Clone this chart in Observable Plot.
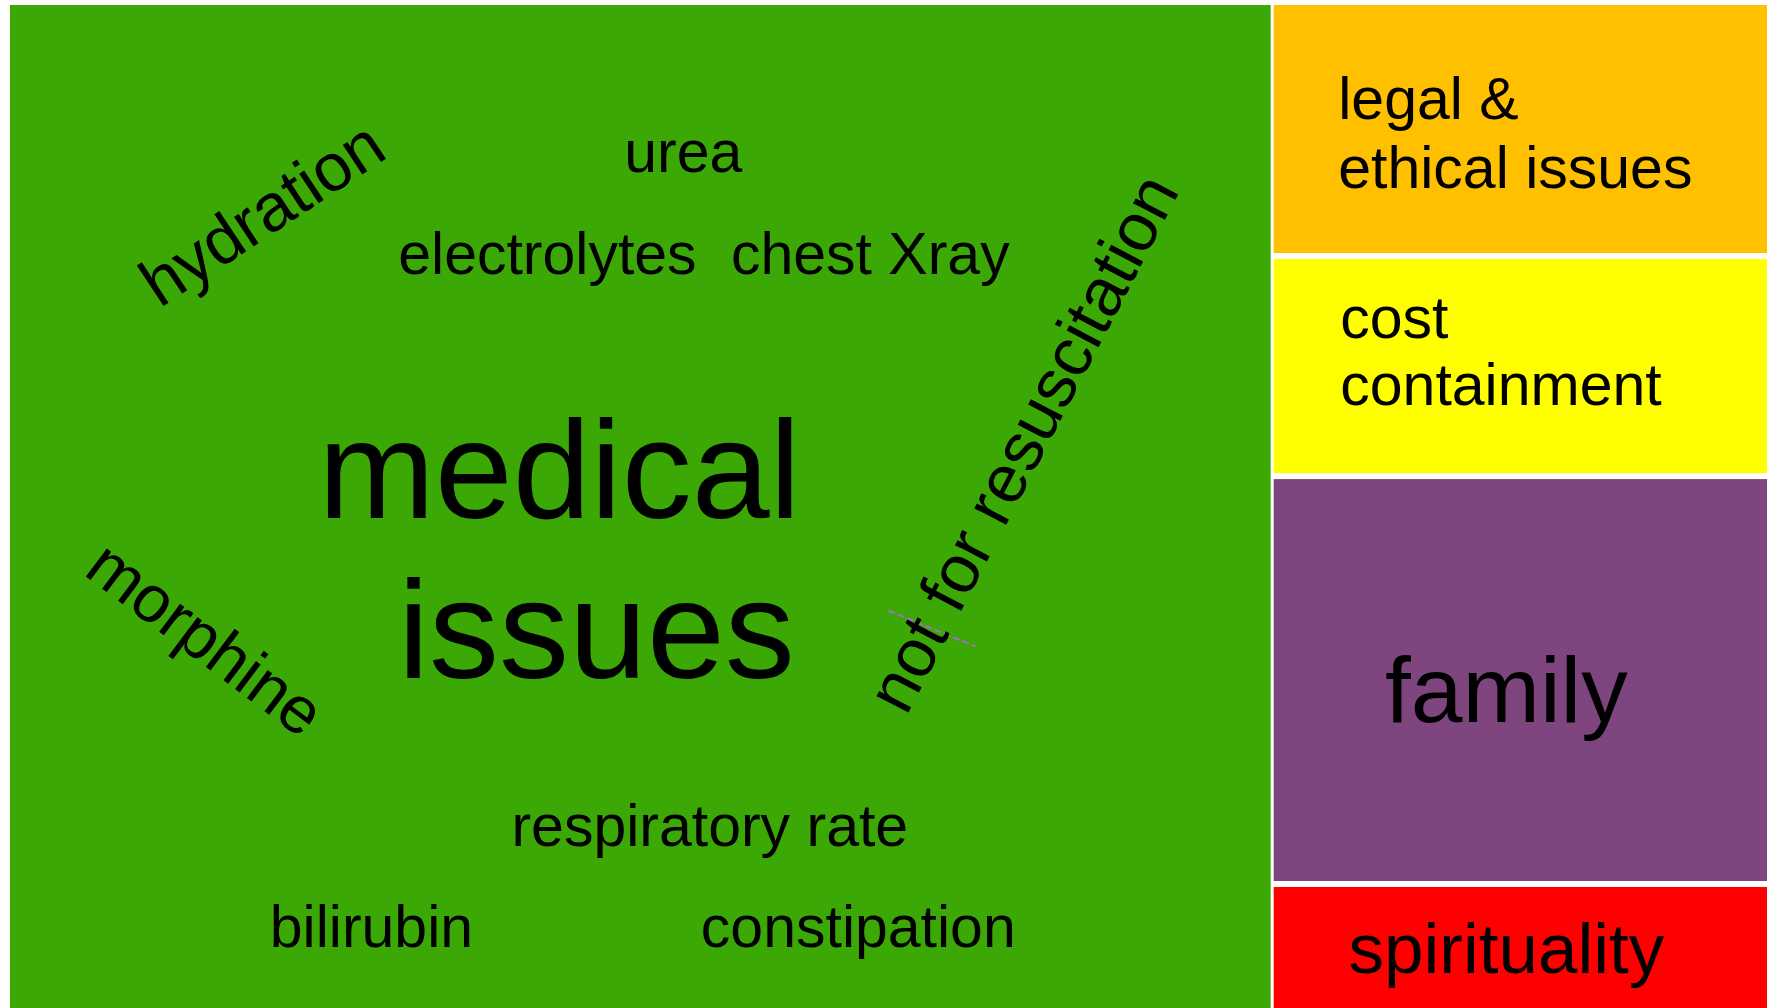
<!DOCTYPE html>
<html>
<head>
<meta charset="utf-8">
<script src="https://cdn.jsdelivr.net/npm/d3@7"></script>
<script src="https://cdn.jsdelivr.net/npm/@observablehq/plot@0.6"></script>
<style>
  html, body { margin: 0; padding: 0; background: #ffffff; overflow: hidden; }
  #chart svg { display: block; }
</style>
</head>
<body>
<div id="chart"></div>
<script>
// ---------- data ----------
const groups = ["medical issues", "legal & ethical issues", "cost containment", "family", "spirituality"];
const groupValues = [71.8, 7.1, 6.15, 11.4, 3.55];           // share of area (%)
const groupColors = ["#3ca806", "#ffc000", "#ffff00", "#7f457f", "#ff0000"];

// label lines shown inside each tile
const labelGroup = ["medical issues", "medical issues", "legal & ethical issues", "legal & ethical issues", "cost containment", "cost containment", "family", "spirituality"];
const labelText  = ["medical", "issues", "legal &", "ethical issues", "cost", "containment", "family", "spirituality"];

// words of the "medical issues" cloud
const words = ["urea", "electrolytes", "chest Xray", "hydration", "not for resuscitation", "morphine", "respiratory rate", "bilirubin", "constipation"];

// ---------- layout (relative to each tile) ----------
const labelLayout = [
  {u: 0.4354, v: 0.5105, size: 140, anchor: "middle"},
  {u: 0.4647, v: 0.6700, size: 140, anchor: "middle"},
  {u: 0.1298, v: 0.4556, size: 59, anchor: "start"},
  {u: 0.1298, v: 0.7339, size: 59, anchor: "start"},
  {u: 0.1340, v: 0.3645, size: 59, anchor: "start"},
  {u: 0.1340, v: 0.6776, size: 59, anchor: "start"},
  {u: 0.4706, v: 0.6035, size: 93, anchor: "middle"},
  {u: 0.4706, v: 0.7050, size: 71, anchor: "middle"}
];
const wordLayout = [
  {u: 0.5337, v: 0.1665, size: 59, angle: 0},
  {u: 0.4259, v: 0.2672, size: 59, angle: 0},
  {u: 0.6820, v: 0.2672, size: 59, angle: 0},
  {u: 0.2095, v: 0.2263, size: 67, angle: -33.5},
  {u: 0.8192, v: 0.4467, size: 68, angle: -62.5},
  {u: 0.1440, v: 0.6491, size: 66, angle: 37},
  {u: 0.5547, v: 0.8375, size: 59, angle: 0},
  {u: 0.2863, v: 0.9382, size: 59, angle: 0},
  {u: 0.6725, v: 0.9382, size: 59, angle: 0}
];
const markSegment = [{u1: 0.6963, v1: 0.6032, u2: 0.7653, v2: 0.6391}];

// ---------- treemap ----------
const W = 1771, H = 1008;
const root = d3.hierarchy({
  name: "root",
  children: [
    {name: groups[0], value: groupValues[0]},
    {name: "other", children: groups.slice(1).map((g, i) => ({name: g, value: groupValues[i + 1]}))}
  ]
}).sum(d => d.value || 0);

d3.treemap()
  .size([W, H])
  .tile(d3.treemapSliceDice)
  .paddingTop(n => n.depth === 0 ? 5 : 0)
  .paddingLeft(n => n.depth === 0 ? 10 : 0)
  .paddingRight(n => n.depth === 0 ? 4 : 0)
  .paddingBottom(0)
  .paddingInner(n => n.depth === 0 ? 3 : 6)(root);

const tiles = root.leaves().map(l => ({name: l.data.name, x0: l.x0, x1: l.x1, y0: l.y0, y1: l.y1}));
const tileOf = Object.fromEntries(tiles.map(t => [t.name, t]));
const at = (t, u, v) => ({x: t.x0 + u * (t.x1 - t.x0), y: t.y0 + v * (t.y1 - t.y0)});

const labelRows = labelText.map((text, i) => ({text, ...labelLayout[i], ...at(tileOf[labelGroup[i]], labelLayout[i].u, labelLayout[i].v)}));
const med = tileOf["medical issues"];
const wordRows = words.map((text, i) => ({text, ...wordLayout[i], ...at(med, wordLayout[i].u, wordLayout[i].v)}));
const segRows = markSegment.map(s => {
  const a = at(med, s.u1, s.v1), b = at(med, s.u2, s.v2);
  return {x1: a.x, y1: a.y, x2: b.x, y2: b.y};
});

const font = "'Liberation Sans', Arial, Helvetica, sans-serif";

const textMarks = [...labelRows, ...wordRows].map(r =>
  Plot.text([r], {
    x: "x", y: "y", text: "text",
    fontSize: r.size, rotate: r.angle || 0,
    textAnchor: r.anchor || "middle", lineAnchor: "bottom",
    fill: "#000000", fontFamily: font
  })
);

const chart = Plot.plot({
  width: W, height: H,
  margin: 0,
  x: {domain: [0, W], range: [0, W], axis: null},
  y: {domain: [0, H], range: [0, H], axis: null},
  color: {domain: groups, range: groupColors},
  style: {background: "#ffffff", fontFamily: font},
  marks: [
    Plot.rect(tiles, {x1: "x0", x2: "x1", y1: "y0", y2: "y1", fill: "name"}),
    Plot.link(segRows, {x1: "x1", y1: "y1", x2: "x2", y2: "y2", stroke: "#c85cf0", strokeWidth: 1.6, strokeDasharray: "7 3"}),
    ...textMarks
  ]
});
document.getElementById("chart").appendChild(chart);
</script>
</body>
</html>
